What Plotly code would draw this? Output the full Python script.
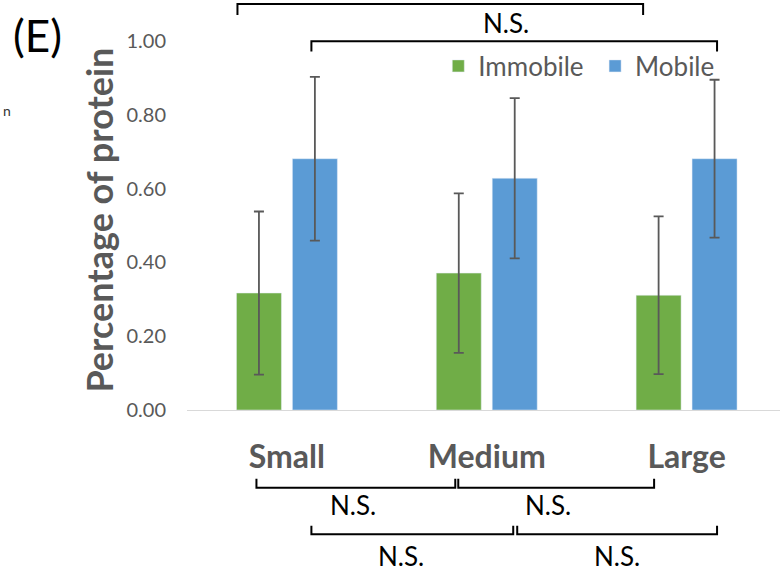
import plotly.graph_objects as go

# ---- data ----
categories = ["Small", "Medium", "Large"]
immobile = [0.317, 0.371, 0.311]
immobile_err = [0.221, 0.216, 0.214]
mobile = [0.681, 0.628, 0.681]
mobile_err = [0.222, 0.217, 0.214]
y_ticks = [0.0, 0.2, 0.4, 0.6, 0.8, 1.0]
sig_label = "N.S."

# ---- layout geometry (pixels) ----
W, H = 780, 571
ML, MR, MT, MB = 186.5, 0, 40.5, 160.5
X_RANGE = [-0.5, 2.4675]
PLOT_W = W - ML - MR
PLOT_H = H - MT - MB

def px_to_xpaper(px):
    return (px - ML) / PLOT_W

def py_to_ypaper(py):
    return (H - MB - py) / PLOT_H

def xdata_to_paper(xd):
    return (xd - X_RANGE[0]) / (X_RANGE[1] - X_RANGE[0])

GREEN = "#70AD47"
BLUE = "#5B9BD5"
GRAY = "#595959"
FONT = "Lato"

fig = go.Figure()
fig.add_trace(go.Bar(
    name="Immobile", x=categories, y=immobile, marker_color=GREEN,
    error_y=dict(type="data", array=immobile_err, visible=True,
                 color=GRAY, thickness=1.8, width=5),
))
fig.add_trace(go.Bar(
    name="Mobile", x=categories, y=mobile, marker_color=BLUE,
    error_y=dict(type="data", array=mobile_err, visible=True,
                 color=GRAY, thickness=1.8, width=5),
))

# significance brackets: (x_start, x_end) in data units, horizontal y px, tip y px
brackets = [
    (-0.2475, 1.7825, 3.5, 14.5),
    (0.1225, 2.1525, 40.7, 51.0),
    (-0.1525, 0.8425, 488.5, 479.5),
    (0.8575, 1.8375, 488.5, 479.5),
    (0.1225, 1.1325, 535.0, 526.5),
    (1.1525, 2.1525, 535.0, 526.5),
]
shapes = []
for x0, x1, yh, yt in brackets:
    a = xdata_to_paper(x0)
    b = xdata_to_paper(x1)
    yh_p = py_to_ypaper(yh)
    yt_p = py_to_ypaper(yt)
    shapes.append(dict(
        type="path", xref="paper", yref="paper",
        path=f"M {a},{yt_p} L {a},{yh_p} L {b},{yh_p} L {b},{yt_p}",
        line=dict(color="black", width=2),
    ))

# N.S. label positions (px)
ns_pos = [(506, 22), (353, 506), (547.5, 506), (401, 557), (617, 557)]
annotations = []
for xp, yp in ns_pos:
    annotations.append(dict(
        text=sig_label, x=px_to_xpaper(xp), y=py_to_ypaper(yp),
        xref="paper", yref="paper", xanchor="center", yanchor="middle",
        showarrow=False, font=dict(family=FONT, size=26, color="black"),
    ))

annotations.append(dict(
    text="(E)", x=px_to_xpaper(37), y=py_to_ypaper(34),
    xref="paper", yref="paper", xanchor="center", yanchor="middle",
    showarrow=False, font=dict(family=FONT, size=44, color="black"),
))
annotations.append(dict(
    text="n", x=px_to_xpaper(0), y=py_to_ypaper(110),
    xref="paper", yref="paper", xanchor="left", yanchor="middle",
    showarrow=False, font=dict(family=FONT, size=14, color="#333333"),
))
annotations.append(dict(
    text="<b>Percentage of protein</b>", x=px_to_xpaper(98), y=py_to_ypaper(220),
    xref="paper", yref="paper", xanchor="center", yanchor="middle",
    textangle=-90, showarrow=False,
    font=dict(family=FONT, size=36, color=GRAY),
))

fig.update_layout(
    width=W, height=H,
    margin=dict(l=ML, r=MR, t=MT, b=MB, pad=0),
    paper_bgcolor="white", plot_bgcolor="white",
    barmode="group", bargap=0.44, bargroupgap=0.196,
    showlegend=True,
    legend=dict(
        orientation="h", x=px_to_xpaper(438), xanchor="left",
        y=py_to_ypaper(42), yanchor="top",
        font=dict(family=FONT, size=26, color=GRAY),
        entrywidth=111.8, entrywidthmode="pixels",
        bgcolor="rgba(0,0,0,0)", borderwidth=0,
    ),
    shapes=shapes,
    annotations=annotations,
    font=dict(family=FONT),
)
fig.update_xaxes(
    range=X_RANGE, showgrid=False, zeroline=False,
    showline=True, linecolor="#D9D9D9", linewidth=1,
    ticks="", ticklabelstandoff=19,
    tickfont=dict(family=FONT, size=32, color=GRAY, weight="bold"),
)
fig.update_yaxes(
    range=[0, 1.0], tickvals=y_ticks, tickformat=".2f",
    showgrid=False, zeroline=False, showline=False,
    ticks="", ticklabelstandoff=20,
    tickfont=dict(family=FONT, size=20, color=GRAY),
)

fig.write_html("out.html")
